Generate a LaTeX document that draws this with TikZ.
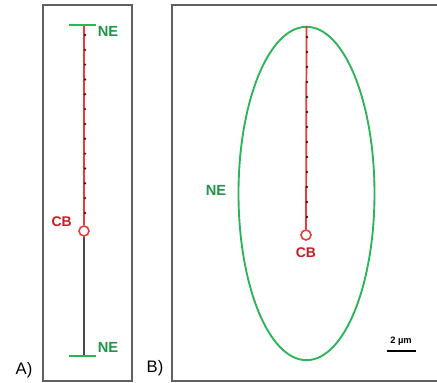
\documentclass[tikz,border=0pt]{standalone}
\usepackage{fontspec}
\setmainfont{Liberation Sans}
\usepackage{tikz}
\usetikzlibrary{positioning,shapes.geometric}
\definecolor{EnvGreen}{RGB}{44,180,88}
\definecolor{NeText}{RGB}{30,150,72}
\definecolor{ChromRed}{RGB}{236,58,58}
\definecolor{LabelRed}{RGB}{200,28,34}
\definecolor{FrameGray}{RGB}{96,96,96}
\definecolor{AxisGray}{RGB}{72,72,72}
\tikzset{
  panel/.style={draw=FrameGray,line width=1.4pt},
  envbar/.style={draw=EnvGreen,line width=2.2pt},
  envelope/.style={draw=EnvGreen,line width=1.4pt,ellipse,inner sep=0pt},
  chromatin/.style={draw=ChromRed,line width=1.3pt},
  axisline/.style={draw=AxisGray,line width=1.3pt},
  cbnode/.style={circle,draw=ChromRed,fill=white,line width=1.2pt,minimum size=7.5pt,inner sep=0pt},
  nelabel/.style={text=NeText,font=\bfseries\fontsize{11}{13}\selectfont,inner sep=0pt},
  cblabel/.style={text=LabelRed,font=\bfseries\fontsize{10.5}{12}\selectfont,inner sep=0pt},
  panellabel/.style={font=\fontsize{12.5}{14}\selectfont,inner sep=0pt},
  beaddot/.style={fill=black!85}
}
\begin{document}
\begin{tikzpicture}[x=0.75pt,y=-0.75pt]
\useasboundingbox (0,0) rectangle (437,383);
\clip (0,0) rectangle (437,383);
\fill[white] (0,0) rectangle (437,383);

% panel A
\draw[panel] (43,5) rectangle (132,381);
\coordinate (topA) at (84,25);
\coordinate (botA) at (84,356);
\node[cbnode] (cbA) at (84,231) {};
\draw[chromatin] (topA) -- (cbA);
\draw[axisline] (cbA) -- (botA);
\foreach \i in {0,...,12}
  \fill[beaddot] (85,{35+\i*14.83}) circle (1pt);
\draw[envbar] ([xshift=-11pt]topA) -- ([xshift=9pt]topA);
\draw[envbar] ([xshift=-11pt]botA) -- ([xshift=9pt]botA);
\node[nelabel] (neTopA) at (108,31) {NE};
\node[nelabel] (neBotA) at (108,347) {NE};
\node[cblabel,anchor=east] (cbLabA) at (72,222) {CB};
\node[panellabel] (labA) at (24,370) {A)};

% panel B
\draw[panel] (172,5) rectangle (442,381);
\node[envelope,minimum width=102pt,minimum height=250pt] (nucB) at (306.5,193.5) {};
\node[cbnode] (cbB) at (306,235) {};
\draw[chromatin] (nucB.north) -- (cbB);
\foreach \i in {0,...,12}
  \fill[beaddot] (307,{37+\i*15}) circle (1pt);
\node[nelabel] (neB) at (216,190) {NE};
\node[cblabel,below=5pt of cbB] (cbLabB) {CB};
\node[panellabel] (labB) at (155,368) {B)};

% scale bar
\coordinate (barL) at (387,351);
\coordinate (barR) at (416,351);
\draw[black,line width=1.1pt] (barL) -- (barR);
\node[font=\bfseries\fontsize{7}{8}\selectfont,inner sep=0pt] (barText) at (401,341) {2 µm};
\end{tikzpicture}
\end{document}
